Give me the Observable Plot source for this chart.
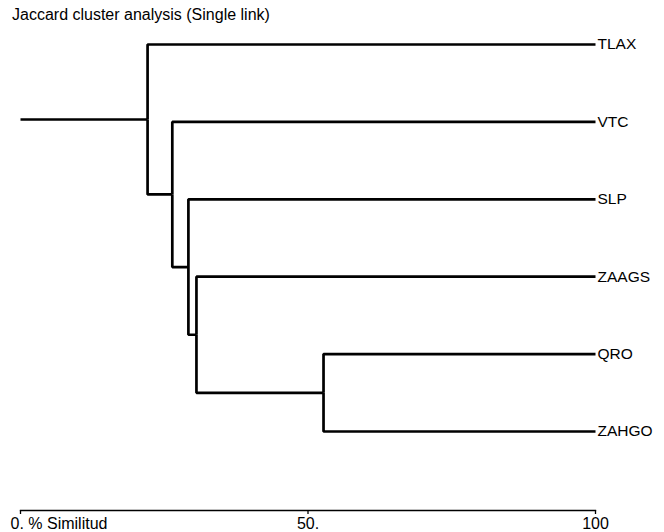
<!DOCTYPE html>
<html>
<head>
<meta charset="utf-8">
<script src="https://cdn.jsdelivr.net/npm/d3@7"></script>
<script src="https://cdn.jsdelivr.net/npm/@observablehq/plot@0.6"></script>
<style>
  html, body { margin: 0; padding: 0; background: #fff; }
  #wrap { width: 664px; height: 532px; overflow: hidden; font-family: "Liberation Sans", Arial, Helvetica, sans-serif; color: #000; }
  #title { height: 30px; line-height: 30px; font-size: 16px; padding-left: 12px; white-space: nowrap; }
</style>
</head>
<body>
<div id="wrap">
  <div id="title">Jaccard cluster analysis (Single link)</div>
  <div id="chart"></div>
</div>
<script>
// Leaves, top to bottom
const leaves = ["TLAX", "VTC", "SLP", "ZAAGS", "QRO", "ZAHGO"];
const leafSimilarity = 100;

// Merges (single link), in order of formation: left child, right child, similarity (%)
const mergeLeft   = ["QRO",   "ZAAGS", "SLP", "VTC", "TLAX"];
const mergeRight  = ["ZAHGO", "n1",    "n2",  "n3",  "n4"];
const mergeName   = ["n1",    "n2",    "n3",  "n4",  "n5"];
const mergeHeight = [52.7,    30.6,    29.2,  26.4,  22.1];
const rootStart = 0;

// Axis
const tickValues = [0, 50, 100];
const tickLabels = ["0. % Similitud", "50.", "100"];

// Build node positions
const nodes = new Map();
leaves.forEach((name, i) => nodes.set(name, {h: leafSimilarity, y: i}));
mergeName.forEach((name, i) => {
  const a = nodes.get(mergeLeft[i]), b = nodes.get(mergeRight[i]);
  nodes.set(name, {h: mergeHeight[i], y: (a.y + b.y) / 2});
});

// Elbow polylines: parent -> child
const segs = [];
let k = 0;
mergeName.forEach((name, i) => {
  const p = nodes.get(name);
  for (const c of [mergeLeft[i], mergeRight[i]]) {
    const ch = nodes.get(c);
    segs.push({id: k, x: p.h, y: p.y});
    segs.push({id: k, x: p.h, y: ch.y});
    segs.push({id: k, x: ch.h, y: ch.y});
    k++;
  }
});
const root = nodes.get(mergeName[mergeName.length - 1]);
segs.push({id: k, x: rootStart, y: root.y});
segs.push({id: k, x: root.h, y: root.y});

const chart = Plot.plot({
  width: 664,
  height: 502,
  marginLeft: 20,
  marginRight: 69,
  marginTop: 14,
  marginBottom: 22,
  style: {fontFamily: '"Liberation Sans", Arial, Helvetica, sans-serif', color: "#000", background: "#fff", overflow: "visible"},
  x: {domain: [0, 100], axis: null, label: null},
  y: {domain: [0, leaves.length - 1], reverse: true, insetBottom: 79, axis: null},
  marks: [
    Plot.frame({anchor: "bottom", strokeWidth: 1.3, stroke: "#000"}),
    Plot.line(segs, {x: "x", y: "y", z: "id", stroke: "#000", strokeWidth: 2.7, strokeLinejoin: "miter", strokeLinecap: "butt"}),
    Plot.text(leaves, {x: () => leafSimilarity, y: (d, i) => i, text: d => d, textAnchor: "start", dx: 2, fontSize: 15.5, fill: "#000"}),
    Plot.axisX({ticks: tickValues, tickSize: 4, tickFormat: () => "", label: null, strokeWidth: 1.3, stroke: "#000"}),
    Plot.text(tickValues.filter((d, i) => i === 0), {x: d => d, text: (d, i) => tickLabels[0], frameAnchor: "bottom", lineAnchor: "bottom", textAnchor: "start", dx: -10, dy: 18.5, fontSize: 16, fill: "#000"}),
    Plot.text(tickValues.filter((d, i) => i > 0), {x: d => d, text: (d, i) => tickLabels[i + 1], frameAnchor: "bottom", lineAnchor: "bottom", textAnchor: "middle", dy: 18.5, fontSize: 16, fill: "#000"})
  ]
});
document.getElementById("chart").appendChild(chart);
</script>
</body>
</html>
